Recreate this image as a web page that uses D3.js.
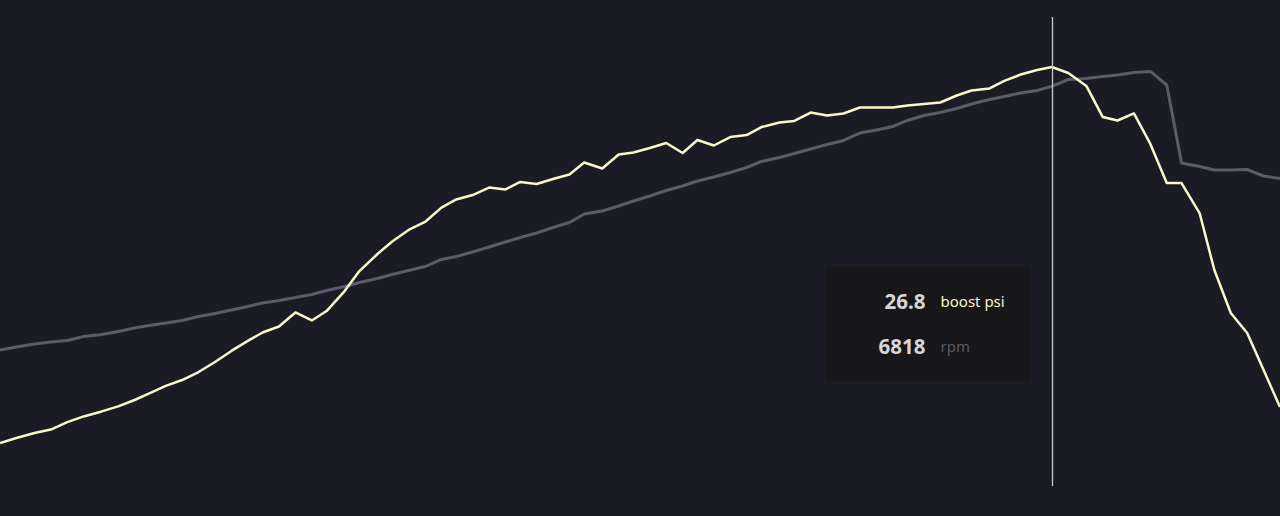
<!DOCTYPE html>
<html>
<head>
<meta charset="utf-8">
<script src="https://cdn.jsdelivr.net/npm/d3@7"></script>
<style>
  html, body { margin: 0; padding: 0; background: #1b1b25; overflow: hidden; }
  svg { display: block; }
</style>
</head>
<body>
<svg id="chart"></svg>
<script>
// sample times (s)
const time = [0.00, 0.10, 0.21, 0.31, 0.41, 0.51, 0.62, 0.72, 0.82, 0.91,
  1.01, 1.11, 1.21, 1.31, 1.41, 1.51, 1.60, 1.70, 1.80, 1.90,
  1.99, 2.10, 2.19, 2.30, 2.39, 2.49, 2.59, 2.69, 2.78, 2.88,
  2.98, 3.08, 3.17, 3.27, 3.37, 3.47, 3.56, 3.67, 3.77, 3.86,
  3.96, 4.06, 4.16, 4.25, 4.35, 4.45, 4.55, 4.64, 4.75, 4.84,
  4.94, 5.04, 5.14, 5.24, 5.34, 5.44, 5.53, 5.63, 5.73, 5.83,
  5.92, 6.03, 6.12, 6.22, 6.32, 6.41, 6.51, 6.62, 6.72, 6.81,
  6.91, 7.01, 7.11, 7.20, 7.31, 7.40, 7.50, 7.60, 7.70, 7.80]

const boost = [2.75, 3.07, 3.39, 3.61, 4.09, 4.45, 4.77, 5.09, 5.50, 5.92,
  6.40, 6.78, 7.29, 7.93, 8.64, 9.28, 9.82, 10.20, 11.10, 10.59,
  11.19, 12.47, 13.75, 14.84, 15.64, 16.38, 16.89, 17.81, 18.33, 18.61,
  19.09, 18.97, 19.45, 19.32, 19.64, 19.93, 20.69, 20.31, 21.20, 21.33,
  21.62, 21.94, 21.30, 22.13, 21.78, 22.32, 22.45, 22.96, 23.25, 23.35,
  23.89, 23.70, 23.83, 24.21, 24.21, 24.21, 24.34, 24.43, 24.53, 24.98,
  25.30, 25.43, 25.91, 26.32, 26.61, 26.80, 26.42, 25.59, 23.60, 23.38,
  23.83, 21.88, 19.38, 19.38, 17.46, 13.82, 11.07, 9.79, 7.42, 5.05]

const rpm = [2320, 2371, 2422, 2456, 2482, 2550, 2584, 2635, 2695, 2738,
  2780, 2823, 2891, 2943, 3002, 3062, 3122, 3164, 3215, 3267,
  3335, 3403, 3471, 3540, 3608, 3676, 3744, 3864, 3915, 3992,
  4077, 4162, 4239, 4316, 4410, 4495, 4640, 4691, 4776, 4862,
  4947, 5041, 5117, 5203, 5271, 5348, 5433, 5535, 5604, 5672,
  5749, 5825, 5894, 6021, 6073, 6132, 6235, 6320, 6371, 6439,
  6516, 6593, 6644, 6704, 6746, 6818, 6934, 6951, 6985, 7011,
  7053, 7071, 6840, 5510, 5450, 5390, 5390, 5399, 5288, 5245]

const boostDomain = [0, 30]
const rpmDomain = [0, 8000]
const cursorIndex = 65

const dimensions = {
  width: 1280,
  height: 516,
  margin: { top: 17, right: 0, bottom: 30, left: 0 },
}

const svg = d3.select("#chart")
  .attr("width", dimensions.width)
  .attr("height", dimensions.height)

const data = time.map((t, i) => ({ t: t, boost: boost[i], rpm: rpm[i] }))

const xScale = d3.scaleLinear()
  .domain(d3.extent(time))
  .range([dimensions.margin.left, dimensions.width - dimensions.margin.right])

const yBoost = d3.scaleLinear()
  .domain(boostDomain)
  .range([dimensions.height - dimensions.margin.bottom, dimensions.margin.top])

const yRpm = d3.scaleLinear()
  .domain(rpmDomain)
  .range([dimensions.height - dimensions.margin.bottom, dimensions.margin.top])

const rpmLine = d3.line().x(d => xScale(d.t)).y(d => yRpm(d.rpm))
const boostLine = d3.line().x(d => xScale(d.t)).y(d => yBoost(d.boost))

svg.append("path")
  .datum(data)
  .attr("d", rpmLine)
  .attr("fill", "none")
  .attr("stroke", "#5b5b69")
  .attr("stroke-width", 3)
  .attr("stroke-linejoin", "round")

svg.append("path")
  .datum(data)
  .attr("d", boostLine)
  .attr("fill", "none")
  .attr("stroke", "#faf8c8")
  .attr("stroke-width", 2.5)
  .attr("stroke-linejoin", "round")

// hover cursor
const cur = data[cursorIndex]
const cx = Math.round(xScale(cur.t)) + 0.5
svg.append("line")
  .attr("x1", cx).attr("x2", cx)
  .attr("y1", dimensions.margin.top)
  .attr("y2", dimensions.height - dimensions.margin.bottom)
  .attr("stroke", "#c9c9d2")
  .attr("stroke-width", 1.3)

// tooltip
const tip = svg.append("g")
  .attr("transform", `translate(${cx - 227},267)`)

tip.append("rect")
  .attr("width", 205)
  .attr("height", 114)
  .attr("fill", "#171719")

const rows = [
  { value: cur.boost.toFixed(1), label: "boost psi", color: "#f7f5cc" },
  { value: String(cur.rpm), label: "rpm", color: "#5a5a63" },
]

rows.forEach((r, i) => {
  tip.append("text")
    .text(r.value)
    .attr("x", 100)
    .attr("y", 42 + i * 45)
    .attr("text-anchor", "end")
    .attr("font-family", "Noto Sans, sans-serif")
    .attr("font-weight", "bold")
    .attr("font-size", "20.5px")
    .attr("fill", "#d6d6d9")

  tip.append("text")
    .text(r.label)
    .attr("x", 115)
    .attr("y", 40 + i * 45)
    .attr("font-family", "Noto Sans, sans-serif")
    .attr("font-size", "15px")
    .attr("fill", r.color)
})
</script>
</body>
</html>
